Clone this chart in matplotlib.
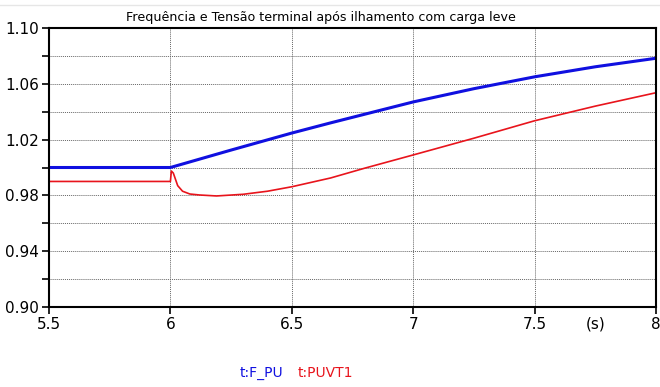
import matplotlib.pyplot as plt
import numpy as np

# frequency (blue)
t_f = [5.5, 6.0, 6.25, 6.5, 6.66, 7.0, 7.25, 7.5, 7.75, 8.0]
f_pu = [1.0, 1.0, 1.0125, 1.0247, 1.032, 1.047, 1.0565, 1.065, 1.0722, 1.0783]

# terminal voltage (red)
t_v = [5.5, 6.0, 6.004, 6.012, 6.03, 6.05, 6.08, 6.12, 6.19, 6.3, 6.4, 6.5,
       6.66, 6.8, 7.0, 7.25, 7.5, 7.75, 8.0]
puvt1 = [0.99, 0.99, 0.9975, 0.996, 0.987, 0.983, 0.981, 0.9803, 0.9796, 0.9808,
         0.983, 0.9862, 0.9925, 0.9995, 1.009, 1.021, 1.0335, 1.044, 1.0536]

fig = plt.figure(figsize=(6.6, 3.87), dpi=100)
ax = fig.add_axes([49/660, 1 - 307/387, 607/660, 279/387])

ax.plot(t_v, puvt1, color='#e8141c', lw=1.2)
ax.plot(t_f, f_pu, color='#1010e0', lw=2.2)

ax.set_xlim(5.5, 8)
ax.set_ylim(0.90, 1.10)
ax.set_xticks([5.5, 6, 6.5, 7, 7.5, 8])
ax.set_xticklabels(['5.5', '6', '6.5', '7', '7.5', '8'])
yt = np.round(np.arange(0.90, 1.101, 0.02), 2)
ax.set_yticks(yt)
ax.set_yticklabels([f'{v:.2f}' if i % 2 == 0 else '' for i, v in enumerate(yt)])
ax.tick_params(direction='out', length=5, width=1.2, labelsize=11, pad=2)
ax.grid(True, color='#666666', ls=(0, (1, 1)), lw=0.7)
for s in ax.spines.values():
    s.set_linewidth(1.5)

ax.text(7.75, -0.035, '(s)', transform=ax.get_xaxis_transform(),
        ha='center', va='top', fontsize=11)
fig.text(126/660, 1 - 17/387,
         'Frequência e Tensão terminal após ilhamento com carga leve',
         fontsize=9.1, va='center', ha='left')

fig.text(240/660, 1 - 373/387, 't:F_PU', color='#1010e0', fontsize=10, va='center')
fig.text(298/660, 1 - 373/387, 't:PUVT1', color='#e8141c', fontsize=10, va='center')
fig.add_artist(plt.Line2D([0, 1], [1 - 5/387, 1 - 5/387], color='#e6e6e6', lw=1))

fig.savefig('out.png', dpi=100)
